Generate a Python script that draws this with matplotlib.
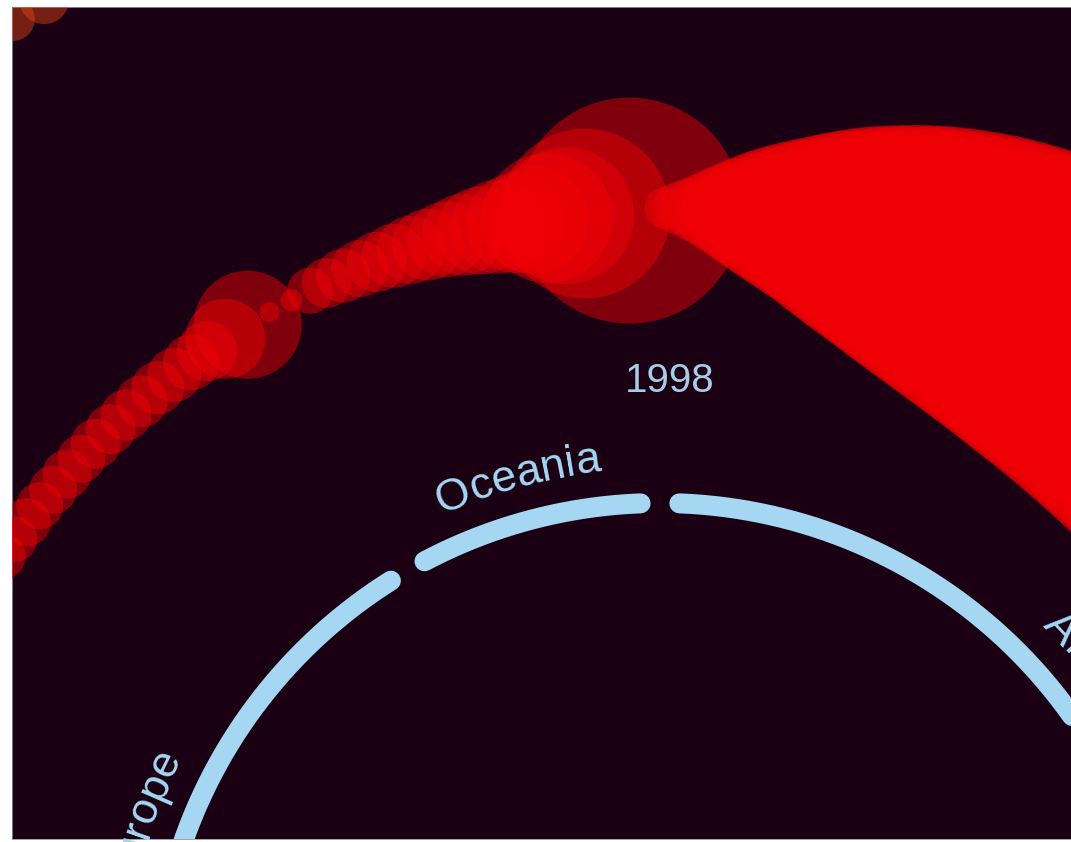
import numpy as np
import matplotlib
matplotlib.use("Agg")
import matplotlib.pyplot as plt
from matplotlib.textpath import TextToPath
from matplotlib.font_manager import FontProperties

# ---------------- data ----------------
continents = ["Africa", "Americas", "Asia", "Europe", "Oceania"]
continent_span_deg = [102, 68, 80, 80, 30]          # share of the ring, clockwise from top

# bubble chain, left part (angle in degrees clockwise from top, bubble value)
left_theta = [-63.0, -61.5, -60.0, -58.5, -57.0, -55.5, -54.0, -52.5, -51.0, -49.5,
              -48.0, -46.5, -45.0, -43.5, -42.0, -40.5, -39.0, -37.5, -36.0, -34.6,
              -33.0, -31.1, -29.3, -27.5, -26.0, -24.7, -23.4, -22.1, -20.8, -19.5,
              -18.2, -16.9, -15.6, -14.3, -13.0, -11.7, -10.4, -9.1, -8.1, -6.8,
              -5.4, -2.2]
left_value = [44, 46, 44, 46, 45, 47, 46, 48, 47, 48,
              49, 48, 50, 50, 51, 52, 53, 54, 56, 60,
              80, 108, 20, 22, 46, 50, 54, 57, 60, 64,
              68, 72, 76, 82, 88, 94, 100, 108, 130, 137,
              170, 226]

# bubble chain, right part
right_theta = [0.4, 1.3, 2.2, 3.1, 4.0, 4.9, 5.8, 6.7, 7.6, 8.5,
               9.4, 10.3, 11.2, 12.2, 13.2, 14.2, 15.2, 16.2, 17.2, 18.2,
               19.2, 20.2, 21.2, 22.4, 23.6, 24.8, 26.0, 27.2, 28.4, 29.6,
               30.8, 32.0, 33.5, 35.0, 36.5, 38.0, 39.5, 41.0, 43.0, 45.0,
               47.0, 49.0]
right_value = [42, 52, 62, 72, 84, 96, 108, 120, 132, 143,
               153, 163, 173, 184, 196, 207, 218, 228, 237, 246,
               255, 263, 271, 279, 287, 294, 300, 306, 311, 316,
               321, 325, 329, 333, 336, 339, 341, 343, 345, 347,
               349, 350]

# outer series (partly visible in the top-left corner)
outer_theta = [-33.2, -31.4]
outer_value = [44, 50]

year_label = "1998"
year_theta = 0.9

# ---------------- layout / style ----------------
W, H, DPI = 1071, 842, 100
BG = "#1b0014"
BLUE = "#a5d7f2"
TXT = "#a7cde6"
RED = "#f20005"
ORANGE = "#e64614"

fig = plt.figure(figsize=(W / DPI, H / DPI), dpi=DPI, facecolor="white")
bg = fig.add_axes([12 / W, 3 / H, (W - 12) / W, (H - 3 - 7) / H])
bg.set_facecolor(BG)
bg.set_xticks([]); bg.set_yticks([])
for s in bg.spines.values():
    s.set_color("#9a8f98"); s.set_linewidth(0.6)

cx, cy = 660, H - 1008        # centre of the radial layout (pixels, from bottom-left)
RMAX = 1300
ax = fig.add_axes([(cx - RMAX) / W, (cy - RMAX) / H, 2 * RMAX / W, 2 * RMAX / H],
                  projection="polar")
ax.set_theta_zero_location("N")
ax.set_theta_direction(-1)
ax.set_ylim(0, RMAX)
ax.set_axis_off()

R_RING = 505
R_LEFT = 798
R_RIGHT = 800
R_OUTER = 1182
R_LABEL = 540
R_YEAR = 627
PAD = 2.2
px2pt = 72.0 / DPI


def bubbles(theta, value, r, color, alpha):
    th = np.deg2rad(np.asarray(theta, float))
    d = np.asarray(value, float) * px2pt
    sc = ax.scatter(th, np.full(len(th), r), s=d ** 2, color=color, alpha=alpha,
                    linewidths=0, zorder=3)
    sc.set_clip_path(bg.patch)


bubbles(outer_theta, outer_value, R_OUTER, ORANGE, 0.45)
bubbles(left_theta, left_value, R_LEFT, RED, 0.47)
bubbles(right_theta, right_value, R_RIGHT, RED, 0.47)

# continent ring
start = 0.0
mids = []
for name, span in zip(continents, continent_span_deg):
    th = np.deg2rad(np.linspace(start + PAD, start + span - PAD, 300))
    ln, = ax.plot(th, np.full(th.size, R_RING), color=BLUE, lw=20 * px2pt,
                  solid_capstyle="round", zorder=2)
    ln.set_clip_path(bg.patch)
    mids.append(start + span / 2.0)
    start += span

# curved labels
fp = FontProperties(family="Liberation Sans", size=32)
ttp = TextToPath()


def adv(t):
    if not t:
        return 0.0
    w, _, _ = ttp.get_text_width_height_descent(t, fp, ismath=False)
    return w / px2pt


def curved_text(s, theta_c, r_base):
    total = adv(s)
    for i, ch in enumerate(s):
        x0, x1 = adv(s[:i]), adv(s[:i + 1])
        mid = (x0 + x1) / 2.0 - total / 2.0
        th = theta_c + np.degrees(mid / r_base)
        t = ax.text(np.deg2rad(th), r_base, ch, rotation=-th, rotation_mode="anchor",
                    ha="center", va="baseline", fontproperties=fp, color=BLUE, zorder=4)
        t.set_clip_path(bg.patch)


for name, m in zip(continents, mids):
    m_signed = m if m <= 180 else m - 360
    curved_text(name, m_signed, R_LABEL)

yt = ax.text(np.deg2rad(year_theta), R_YEAR, year_label, ha="center", va="center",
             fontproperties=FontProperties(family="Liberation Sans", size=29),
             color=TXT, zorder=4)
yt.set_clip_path(bg.patch)

fig.savefig("out.png", dpi=DPI, facecolor="white")
